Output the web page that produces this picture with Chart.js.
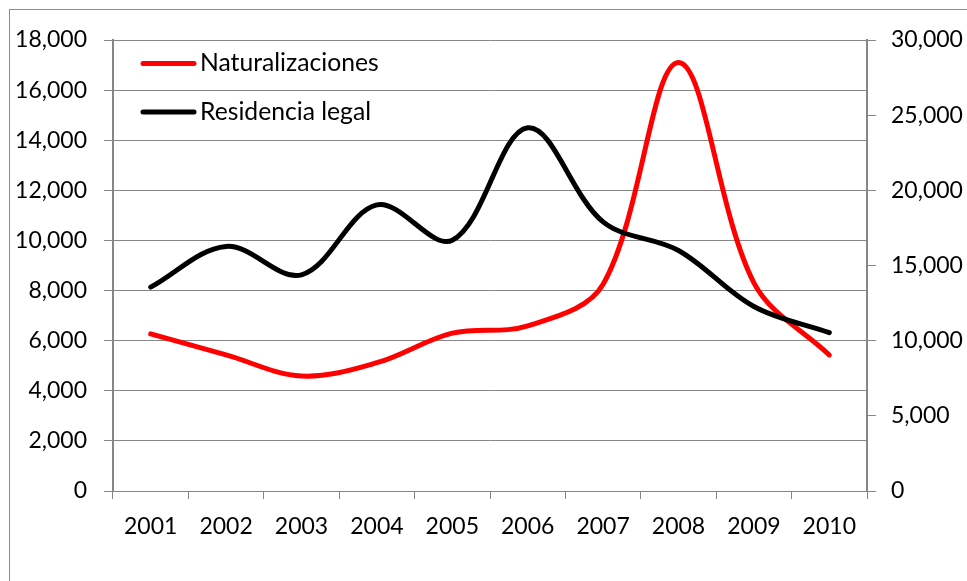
<!DOCTYPE html>
<html><head><meta charset="utf-8">
<script src="https://cdn.jsdelivr.net/npm/chart.js@4/dist/chart.umd.min.js"></script>
<style>html,body{margin:0;padding:0;background:#fff;}#wrap{width:967px;height:581px;position:relative;}</style>
</head><body><div id="wrap"><canvas id="c" width="967" height="581"></canvas></div>
<script>
const years = ['2001','2002','2003','2004','2005','2006','2007','2008','2009','2010'];
const naturalizaciones = [6270, 5430, 4590, 5120, 6300, 6590, 8250, 17100, 8310, 5430];
const residenciaLegal = [13560, 16270, 14380, 19030, 16680, 24160, 17900, 16000, 12270, 10530];
const seriesLabels = ['Naturalizaciones', 'Residencia legal'];
const leftAxis = {min: 0, max: 18000, step: 2000};
const rightAxis = {min: 0, max: 30000, step: 5000};

const FONT = {family: 'Lato', size: 23};
const LEGEND_FONT = {family: 'Lato', size: 24.7};
const GRID = '#868686';
const fmt = v => Number(v).toLocaleString('en-US');

const frame = {
  id: 'frame',
  beforeDraw(chart) {
    const ctx = chart.ctx;
    ctx.save();
    ctx.fillStyle = '#fff';
    ctx.fillRect(0, 0, chart.width, chart.height);
    ctx.strokeStyle = '#8c8c8c';
    ctx.lineWidth = 1;
    ctx.strokeRect(9.5, 9.5, 1000, 1000);
    ctx.restore();
  }
};

const legendIn = {
  id: 'legendIn',
  afterDraw(chart) {
    const ctx = chart.ctx;
    ctx.save();
    chart.data.datasets.forEach((ds, i) => {
      const y = 63.5 + i * 48.4;
      ctx.strokeStyle = ds.borderColor;
      ctx.lineWidth = 5;
      ctx.lineCap = 'round';
      ctx.beginPath();
      ctx.moveTo(143, y);
      ctx.lineTo(194, y);
      ctx.stroke();
      ctx.fillStyle = '#000';
      ctx.font = LEGEND_FONT.size + 'px ' + LEGEND_FONT.family;
      ctx.textBaseline = 'middle';
      ctx.textAlign = 'left';
      ctx.fillText(ds.label, 200, y);
    });
    ctx.restore();
  }
};

new Chart(document.getElementById('c'), {
  type: 'line',
  data: {
    labels: years,
    datasets: [
      {label: seriesLabels[0], data: naturalizaciones, yAxisID: 'y', borderColor: '#ff0000', order: 1},
      {label: seriesLabels[1], data: residenciaLegal, yAxisID: 'y1', borderColor: '#000000', order: 0}
    ]
  },
  options: {
    responsive: false,
    animation: false,
    devicePixelRatio: 1,
    layout: {padding: {top: 40, left: 0, right: 0, bottom: 0}},
    elements: {
      line: {borderWidth: 5, tension: 0.35, borderCapStyle: 'round', borderJoinStyle: 'round', fill: false},
      point: {radius: 0, hoverRadius: 0}
    },
    plugins: {legend: {display: false}, tooltip: {enabled: false}},
    scales: {
      x: {
        type: 'category',
        offset: true,
        grid: {offset: true, drawOnChartArea: false, drawTicks: true, tickLength: 8, color: GRID, lineWidth: 1},
        border: {display: true, color: GRID, width: 1},
        ticks: {font: FONT, color: '#000', padding: 14, maxRotation: 0, autoSkip: false},
        afterFit(s) { s.height = 90; }
      },
      y: {
        position: 'left',
        min: leftAxis.min, max: leftAxis.max,
        grid: {color: GRID, lineWidth: 1, tickLength: 9},
        border: {display: true, color: GRID, width: 2},
        ticks: {stepSize: leftAxis.step, font: FONT, color: '#000', padding: 17, callback: fmt},
        afterFit(s) { s.width = 113; }
      },
      y1: {
        position: 'right',
        min: rightAxis.min, max: rightAxis.max,
        grid: {drawOnChartArea: false, color: GRID, lineWidth: 1, tickLength: 9},
        border: {display: true, color: GRID, width: 2},
        ticks: {stepSize: rightAxis.step, font: FONT, color: '#000', padding: 15, crossAlign: 'near', callback: fmt},
        afterFit(s) { s.width = 100; }
      }
    }
  },
  plugins: [frame, legendIn]
});
</script>
</body></html>
